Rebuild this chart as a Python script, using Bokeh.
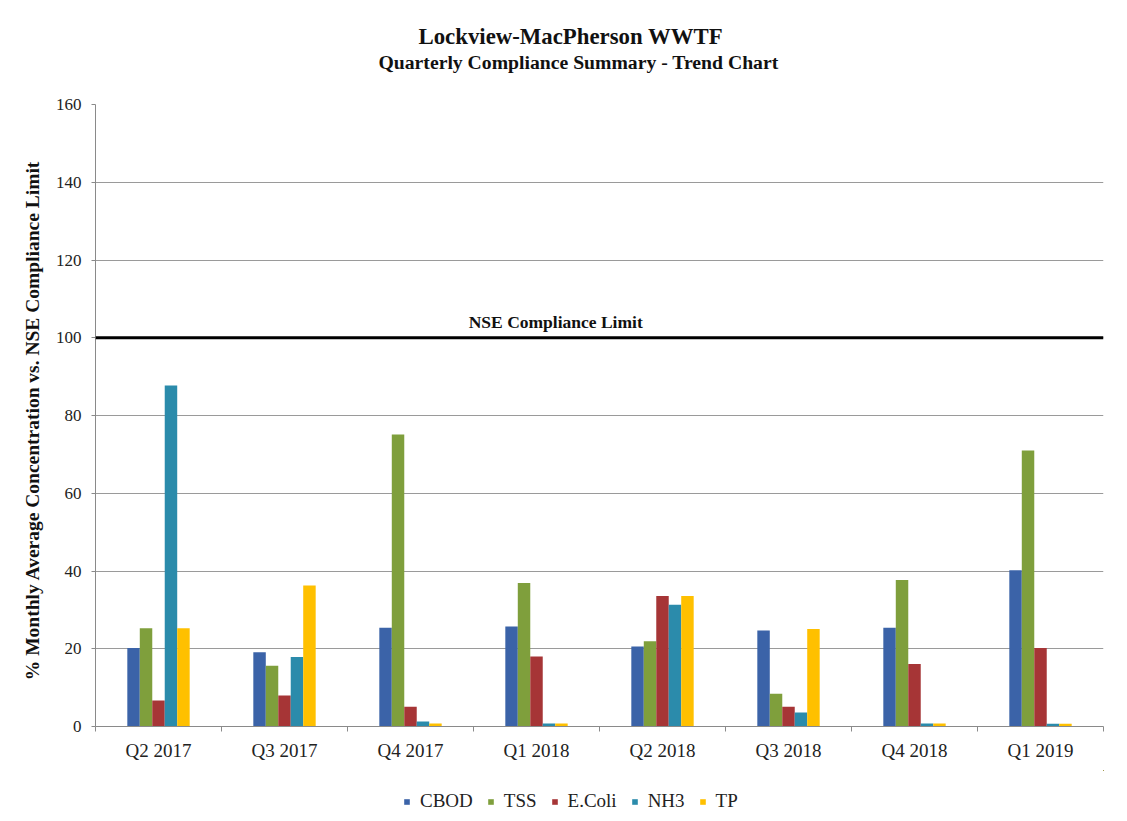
from bokeh.plotting import figure
from bokeh.layouts import column
from bokeh.models import (ColumnDataSource, Range1d, FixedTicker,
                          Span, Label, Legend, LegendItem, Title)
from bokeh.transform import dodge
from bokeh.embed import file_html
from bokeh.resources import INLINE

quarters = ["Q2 2017", "Q3 2017", "Q4 2017", "Q1 2018", "Q2 2018", "Q3 2018", "Q4 2018", "Q1 2019"]
cbod = [20.2, 19.1, 25.4, 25.7, 20.6, 24.7, 25.4, 40.2]
tss = [25.3, 15.6, 75.1, 36.9, 21.9, 8.4, 37.7, 71.0]
ecoli = [6.7, 8.0, 5.1, 18.0, 33.6, 5.1, 16.1, 20.2]
nh3 = [87.7, 17.9, 1.3, 0.8, 31.3, 3.6, 0.8, 0.7]
tp = [25.3, 36.3, 0.8, 0.8, 33.6, 25.1, 0.8, 0.7]
series_names = ["CBOD", "TSS", "E.Coli", "NH3", "TP"]
series_colors = ["#3B63A8", "#7F9F3C", "#A63536", "#2B8BAB", "#FFC000"]
y_ticks = [0, 20, 40, 60, 80, 100, 120, 140, 160]
limit_value = 100

SERIF = "Liberation Serif"

n = len(quarters)
centers = [i + 0.5 for i in range(n)]  # category slot centres on a 0..n axis
src = ColumnDataSource(dict(q=quarters, xc=centers, CBOD=cbod, TSS=tss, ECOLI=ecoli, NH3=nh3, TP=tp))
cols = ["CBOD", "TSS", "ECOLI", "NH3", "TP"]

p = figure(x_range=Range1d(0, n), y_range=Range1d(0, 160),
           width=1127, height=770, output_backend="svg", toolbar_location=None,
           min_border_left=95, min_border_right=24,
           min_border_top=104, min_border_bottom=44)
p.outline_line_color = None
p.xgrid.grid_line_color = None
p.ygrid.grid_line_color = "#9a9a9a"
p.ygrid.grid_line_width = 1
p.ygrid.ticker = FixedTicker(ticks=y_ticks)

bw = 0.099
offsets = [-2 * bw, -bw, 0, bw, 2 * bw]
for col, color, off in zip(cols, series_colors, offsets):
    p.vbar(x=dodge("xc", off), top=col, width=bw, source=src,
           fill_color=color, line_color=None)

# y axis
ya = p.yaxis[0]
ya.ticker = FixedTicker(ticks=y_ticks)
ya.axis_line_color = "#8a8a8a"
ya.major_tick_line_color = "#8a8a8a"
ya.major_tick_out = 4
ya.major_tick_in = 0
ya.minor_tick_line_color = None
ya.major_label_text_font = SERIF
ya.major_label_text_font_size = "17px"
ya.major_label_text_color = "#222222"
ya.major_label_standoff = 10
ya.axis_label = "% Monthly Average Concentration  vs. NSE Compliance  Limit"
ya.axis_label_text_font = SERIF
ya.axis_label_text_font_style = "bold"
ya.axis_label_text_font_size = "19.5px"
ya.axis_label_text_color = "#111111"
ya.axis_label_standoff = 10

# x axis: labels at slot centres, tick marks at slot boundaries
xa = p.xaxis[0]
xa.ticker = FixedTicker(ticks=centers, minor_ticks=list(range(n + 1)))
xa.major_label_overrides = {c: q for c, q in zip(centers, quarters)}
xa.axis_line_color = "#8a8a8a"
xa.major_tick_line_color = None
xa.minor_tick_line_color = "#8a8a8a"
xa.minor_tick_out = 5
xa.minor_tick_in = 0
xa.major_label_text_font = SERIF
xa.major_label_text_font_size = "19px"
xa.major_label_text_color = "#222222"
xa.major_label_standoff = 7

# compliance limit
p.add_layout(Span(location=limit_value, dimension="width", line_color="black", line_width=3))
p.add_layout(Label(x=3.67, y=104, text="NSE Compliance  Limit", text_font=SERIF,
                   text_font_style="bold", text_font_size="17.5px", text_align="center",
                   text_baseline="middle", text_color="#111111"))

# titles (closest to the plot added first): spacer, subtitle, title
p.add_layout(Title(text=" ", text_font_size="16px", standoff=13), "above")
p.add_layout(Title(text="Quarterly  Compliance  Summary  - Trend Chart", align="left", offset=283,
                   text_font=SERIF, text_font_style="bold", text_font_size="19.7px",
                   text_color="#111111", standoff=0), "above")
p.add_layout(Title(text="Lockview-MacPherson WWTF", align="left", offset=323,
                   text_font=SERIF, text_font_style="bold", text_font_size="22.8px",
                   text_color="#111111", standoff=0), "above")

# legend strip underneath: same series drawn through its scales but kept outside its view
lf = figure(x_range=Range1d(-3 * n, -2 * n), y_range=Range1d(-200, -100), width=1127, height=51,
            output_backend="svg", toolbar_location=None,
            x_axis_location=None, y_axis_location=None, min_border=0)
lf.outline_line_color = None
lf.xgrid.grid_line_color = None
lf.ygrid.grid_line_color = None
items = []
for col, name, color, off in zip(cols, series_names, series_colors, offsets):
    r = lf.vbar(x=dodge("xc", off), top=col, width=bw, source=src,
                fill_color=color, line_color=None)
    items.append(LegendItem(label=name, renderers=[r]))
legend = Legend(items=items, orientation="horizontal", location=(308, 9),
                border_line_color=None, background_fill_alpha=0,
                glyph_width=7, glyph_height=7, label_standoff=10, spacing=14,
                label_text_font=SERIF, label_text_font_size="19px", label_text_color="#222222",
                padding=4, margin=0)
lf.add_layout(legend, "center")

page = column(p, lf, spacing=0)
open("out.html", "w").write(file_html(page, INLINE))
